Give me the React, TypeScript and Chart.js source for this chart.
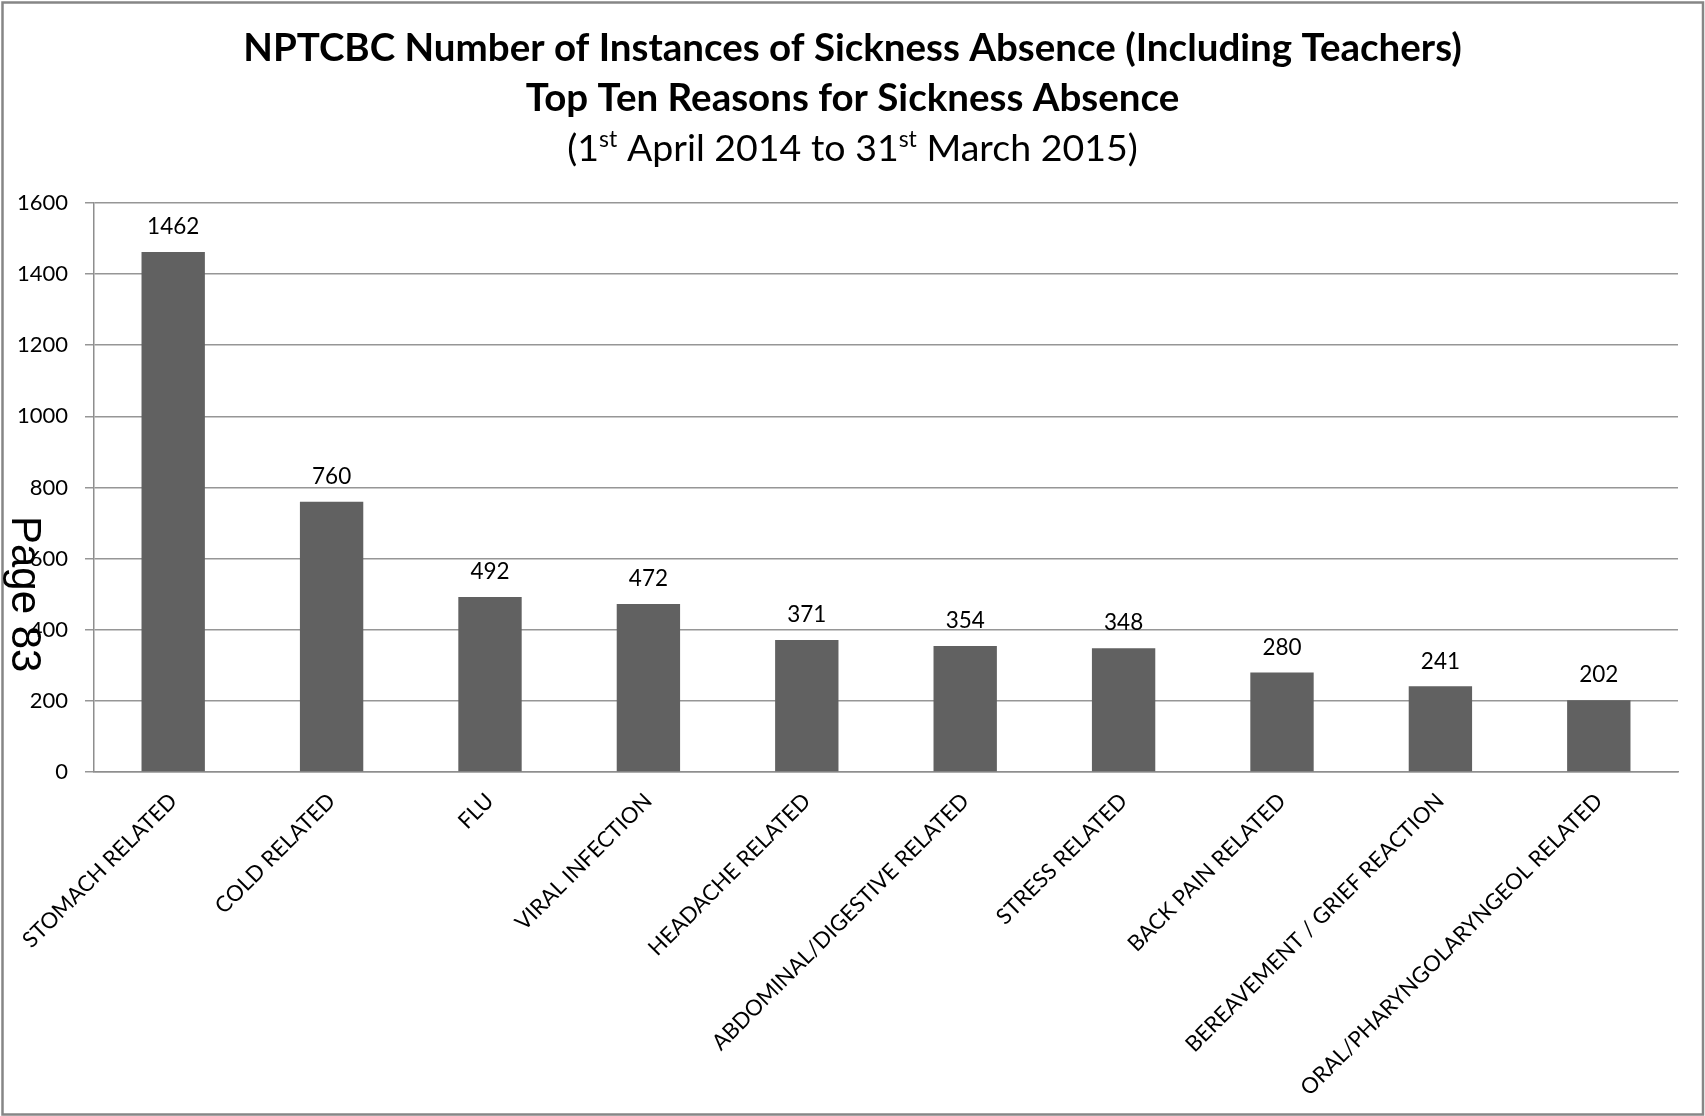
import React, { useEffect, useRef } from "react";
import { Chart, registerables } from "chart.js";

Chart.register(...registerables);

// Sickness absence reasons and number of instances
const reasons = [
  "STOMACH RELATED",
  "COLD RELATED",
  "FLU",
  "VIRAL INFECTION",
  "HEADACHE RELATED",
  "ABDOMINAL/DIGESTIVE RELATED",
  "STRESS RELATED",
  "BACK PAIN RELATED",
  "BEREAVEMENT / GRIEF REACTION",
  "ORAL/PHARYNGOLARYNGEOL RELATED",
];
const instances = [1462, 760, 492, 472, 371, 354, 348, 280, 241, 202];
const yTickValues = [0, 200, 400, 600, 800, 1000, 1200, 1400, 1600];

const titleLines = [
  "NPTCBC Number of Instances of Sickness Absence (Including Teachers)",
  "Top Ten Reasons for Sickness Absence",
];
// period line, with the ordinal suffixes set as superscripts
const periodParts: { text: string; sup?: boolean }[] = [
  { text: "(1" },
  { text: "st", sup: true },
  { text: " April 2014 to 31" },
  { text: "st", sup: true },
  { text: " March 2015)" },
];
const pageMark = "Page 83";

const W = 1705;
const H = 1116;
const FONT = "Lato, 'Open Sans', sans-serif";

const framePlugin = {
  id: "frame",
  beforeDraw(chart: any) {
    const ctx = chart.ctx;
    ctx.save();
    ctx.fillStyle = "#ffffff";
    ctx.fillRect(0, 0, W, H);
    ctx.strokeStyle = "#868686";
    ctx.lineWidth = 2.5;
    ctx.strokeRect(2.5, 2.5, W - 4.5, H - 4);
    ctx.restore();
  },
};

const valueLabelPlugin = {
  id: "valueLabels",
  afterDatasetsDraw(chart: any) {
    const ctx = chart.ctx;
    const meta = chart.getDatasetMeta(0);
    ctx.save();
    ctx.font = `22.5px ${FONT}`;
    ctx.fillStyle = "#000000";
    ctx.textAlign = "center";
    ctx.textBaseline = "middle";
    meta.data.forEach((bar: any, i: number) => {
      ctx.fillText(String(instances[i]), bar.x, bar.y - 25);
    });
    ctx.restore();
  },
};

const periodPlugin = {
  id: "periodLine",
  afterDraw(chart: any) {
    const ctx = chart.ctx;
    const block = chart.titleBlock;
    const cy = (block ? block.top : 0) + 148;
    const base = `37.5px ${FONT}`;
    const small = `23px ${FONT}`;
    ctx.save();
    ctx.fillStyle = "#000000";
    ctx.textBaseline = "alphabetic";
    ctx.textAlign = "left";
    let total = 0;
    const widths = periodParts.map((p) => {
      ctx.font = p.sup ? small : base;
      const w = ctx.measureText(p.text).width;
      total += w;
      return w;
    });
    let x = W / 2 - total / 2;
    const baseline = cy + 13;
    periodParts.forEach((p, i) => {
      ctx.font = p.sup ? small : base;
      ctx.fillText(p.text, x, p.sup ? baseline - 14 : baseline);
      x += widths[i];
    });
    ctx.restore();
  },
};

const pageMarkPlugin = {
  id: "pageMark",
  afterDraw(chart: any) {
    const ctx = chart.ctx;
    ctx.save();
    ctx.translate(12, 516);
    ctx.rotate(Math.PI / 2);
    ctx.font = `42px 'Liberation Sans', Arial, sans-serif`;
    ctx.fillStyle = "#000000";
    ctx.textAlign = "left";
    ctx.textBaseline = "alphabetic";
    ctx.fillText(pageMark, 0, 0);
    ctx.restore();
  },
};

export default function App() {
  const canvasRef = useRef<HTMLCanvasElement | null>(null);

  useEffect(() => {
    const canvas = canvasRef.current;
    if (!canvas) return;
    const chart = new Chart(canvas, {
      type: "bar",
      data: {
        labels: reasons,
        datasets: [
          {
            data: instances,
            backgroundColor: "#616161",
            borderWidth: 0,
            categoryPercentage: 0.8,
            barPercentage: 0.5,
          },
        ],
      },
      options: {
        responsive: false,
        animation: false,
        devicePixelRatio: 1,
        layout: { padding: { top: 0, left: 0, right: 0, bottom: 0 } },
        plugins: {
          legend: { display: false },
          tooltip: { enabled: false },
          title: {
            display: true,
            text: titleLines,
            color: "#000000",
            font: { family: FONT, size: 38.5, weight: "bold", lineHeight: 1.29 },
            padding: { top: 24, bottom: 79.5 },
          },
        },
        scales: {
          x: {
            grid: { display: false, drawTicks: false },
            border: { display: true, color: "#8e8e8e", width: 1.5 },
            ticks: {
              minRotation: 45,
              maxRotation: 45,
              autoSkip: false,
              padding: 16,
              color: "#000000",
              font: { family: FONT, size: 22 },
            },
            afterFit(scale: any) {
              scale.height = 344;
            },
          },
          y: {
            min: 0,
            max: 1600,
            grid: { color: "#969696", lineWidth: 1.5, tickLength: 9, drawTicks: true },
            border: { display: true, color: "#8e8e8e", width: 1.5 },
            ticks: {
              padding: 17,
              color: "#000000",
              font: { family: FONT, size: 22 },
              callback: (v: any) => String(v),
            },
            afterBuildTicks(scale: any) {
              scale.ticks = yTickValues.map((v) => ({ value: v }));
            },
            afterFit(scale: any) {
              scale.width = 94;
            },
          },
          // empty margin strip on the right of the plot
          margin: {
            type: "linear",
            position: "right",
            min: 0,
            max: 1,
            grid: { display: false, drawTicks: false },
            border: { display: false },
            ticks: { display: false },
            afterFit(scale: any) {
              scale.width = 27;
            },
          },
        },
      },
      plugins: [framePlugin, valueLabelPlugin, periodPlugin, pageMarkPlugin],
    });
    return () => chart.destroy();
  }, []);

  return (
    <div style={{ position: "fixed", left: 0, top: 0, width: W, height: H, background: "#fff" }}>
      <canvas ref={canvasRef} width={W} height={H} style={{ display: "block" }} />
    </div>
  );
}
